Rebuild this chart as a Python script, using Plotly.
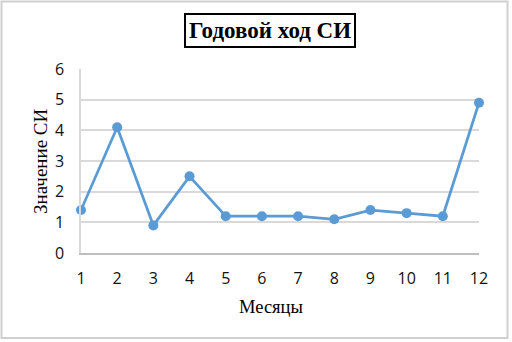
import plotly.graph_objects as go

months = [1, 2, 3, 4, 5, 6, 7, 8, 9, 10, 11, 12]
si_values = [1.4, 4.1, 0.9, 2.5, 1.2, 1.2, 1.2, 1.1, 1.4, 1.3, 1.2, 4.9]
title_text = "Годовой ход СИ"
x_title = "Месяцы"
y_title = "Значение СИ"

W, H = 512, 342
L, R, T, B = 81, 33, 69, 89
pw, ph = W - L - R, H - T - B

def px(x):
    return (x - L) / pw

def py(y):
    return (H - B - y) / ph

fig = go.Figure()
fig.add_trace(go.Scatter(
    x=months, y=si_values, mode="lines+markers",
    line=dict(color="#5B9BD5", width=2.75),
    marker=dict(color="#5B9BD5", size=10),
    cliponaxis=False, showlegend=False,
))

fig.update_layout(
    width=W, height=H,
    margin=dict(l=L, r=R, t=T, b=B),
    paper_bgcolor="white", plot_bgcolor="white",
    xaxis=dict(range=[1, 12], tickvals=months, showgrid=False, zeroline=False,
               showline=True, linecolor="#bfbfbf", linewidth=1.5,
               tickfont=dict(family="Open Sans", size=16, color="#111111"),
               ticklabelstandoff=10),
    yaxis=dict(range=[0, 6], tick0=0, dtick=1, showgrid=True, gridcolor="#d9d9d9",
               gridwidth=1.5, zeroline=False, showline=True, linecolor="#d9d9d9",
               linewidth=1.5,
               tickfont=dict(family="Open Sans", size=16, color="#111111"),
               ticklabelstandoff=12),
    shapes=[dict(type="rect", xref="paper", yref="paper",
                 x0=px(1.5), x1=px(507.5), y0=py(1.5), y1=py(338),
                 line=dict(color="#d0d0d0", width=2), layer="below")],
    annotations=[
        dict(text="<b>" + title_text + "</b>", xref="paper", yref="paper",
             x=px(270), y=py(30), xanchor="center", yanchor="middle", showarrow=False,
             font=dict(family="Liberation Serif", size=23, color="black"),
             bordercolor="black", borderwidth=2, borderpad=3, bgcolor="white"),
        dict(text=x_title, xref="paper", yref="paper",
             x=px(271), y=py(307), xanchor="center", yanchor="middle", showarrow=False,
             font=dict(family="Liberation Serif", size=18.5, color="black")),
        dict(text=y_title, xref="paper", yref="paper", textangle=-90,
             x=px(40), y=py(161), xanchor="center", yanchor="middle", showarrow=False,
             font=dict(family="Liberation Serif", size=19, color="black")),
    ],
)

fig.write_html("out.html")
